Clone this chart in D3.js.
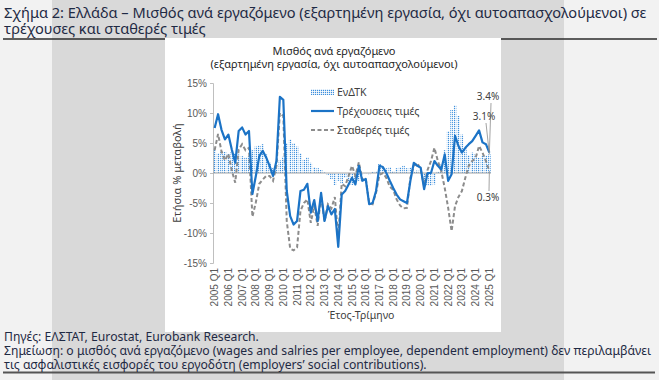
<!DOCTYPE html>
<html>
<head>
<meta charset="utf-8">
<script src="https://cdnjs.cloudflare.com/ajax/libs/d3/7.8.5/d3.min.js"></script>
<style>
  body { margin: 0; }
  svg { display: block; font-family: "Noto Sans", sans-serif; }
  .axis path, .axis line { stroke: #bfbfbf; }
  .axis text { fill: #595959; font-size: 10px; }
</style>
</head>
<body>
<svg id="chart" width="659" height="380"></svg>
<script>
// quarters 2005 Q1 .. 2025 Q1
var years = d3.range(2005, 2026);
var quarters = [];
years.forEach(function(y) {
  ["Q1", "Q2", "Q3", "Q4"].forEach(function(q) {
    if (y < 2025 || q == "Q1") quarters.push(y + " " + q);
  });
});
var tickLabels = quarters.filter(function(q) { return q.slice(-2) == "Q1"; });

// ΕνΔΤΚ (HICP), y/y %
var hicp = [
  4.1, 3.3, 3.6, 3.5,  3.2, 3.5, 3.3, 3.1,  2.8, 2.6, 2.8, 3.8,
  4.4, 4.6, 4.8, 3.1,  1.7, 0.8, 0.8, 2.1,  2.7, 5.0, 5.6, 5.0,
  4.4, 3.3, 2.2, 2.6,  1.7, 1.0, 0.8, 0.5,  0.1, -0.3, -1.0, -2.0,
  -1.3, -1.8, -0.8, -1.4,  -2.0, -1.4, -1.3, -0.2,  -0.1, -0.2, 0.2, 0.3,
  1.5, 1.0, 0.8, 1.0,  0.3, 0.8, 1.0, 1.2,  0.8, 0.9, 0.2, 0.4,
  0.8, -1.5, -2.1, -2.1,  -1.9, 0.2, 1.4, 3.8,  7.0, 10.5, 11.3, 9.5,
  6.4, 4.1, 3.0, 3.4,  3.1, 2.5, 2.9, 2.9,  3.1
];
// wages per employee, current prices
var current = [
  7.5, 9.8, 7.2, 5.6,  6.4, 3.9, 1.7, 7.0,  7.6, 6.4, 7.0, -3.5,
  -0.5, 2.8, 3.7, 2.6,  1.2, -0.5, 2.0, 12.7,  12.2, -3.0, -7.2, -8.6,
  -8.0, -3.0, -2.8, -1.8,  -6.6, -4.5, -8.0, -3.3,  -8.0, -5.5, -6.9, -6.0,
  -12.3, -3.6, -3.0, -1.9,  -0.8, -1.9, 1.2, -1.3,  -1.0, -5.2, -5.0, -3.0,
  1.2, 1.0, 0.0, -1.3,  -2.5, -3.6, -4.4, -4.7,  -5.0, -1.3, 1.7, 1.2,
  0.9, -2.7, 0.0, 0.0,  2.0, 1.2, 0.6, 3.1,  -1.3, -0.2, 6.2, 4.5,
  3.4, 4.2, 4.8, 5.3,  6.2, 7.1, 5.1, 4.8,  3.4
];
// wages per employee, constant prices
var constant = [
  3.8, 6.5, 3.6, 2.1,  3.2, 0.4, -1.6, 3.9,  4.8, 3.8, 4.2, -7.3,
  -4.9, -1.8, -1.1, -0.5,  -0.5, -1.3, 1.2, 10.0,  9.5, -8.0, -12.6, -12.9,
  -12.4, -6.3, -5.0, -4.4,  -8.3, -5.5, -8.8, -3.8,  -8.1, -5.2, -5.9, -4.0,
  -10.8, -1.8, -2.2, -0.5,  1.2, -0.5, 1.8, -1.1,  -0.9, -5.0, -5.2, -3.3,
  -0.3, 0.0, -0.8, -2.3,  -2.8, -4.4, -5.4, -5.9,  -5.8, -0.8, 1.2, 1.7,
  0.6, -2.2, 0.5, 2.0,  4.2, 2.0, 0.3, -2.5,  -5.8, -9.7, -5.5, -4.0,
  -3.0, -0.8, 1.2, 2.0,  2.5, 4.5, 3.4, 2.0,  0.3
];

var yTicks = [-15, -10, -5, 0, 5, 10, 15];
var legendNames = ["ΕνΔΤΚ", "Τρέχουσεις τιμές", "Σταθερές τιμές"];
var titleLines = [
  "Σχήμα 2: Ελλάδα – Μισθός ανά εργαζόμενο (εξαρτημένη εργασία, όχι αυτοαπασχολούμενοι) σε",
  "τρέχουσες και σταθερές τιμές"
];
var chartTitle = ["Μισθός ανά εργαζόμενο", "(εξαρτημένη εργασία, όχι αυτοαπασχολούμενοι)"];
var notes = [
  "Πηγές: ΕΛΣΤΑΤ, Eurostat, Eurobank Research.",
  "Σημείωση: ο μισθός ανά εργαζόμενο (wages and salries per employee, dependent employment) δεν περιλαμβάνει",
  "τις ασφαλιστικές εισφορές του εργοδότη (employers’ social contributions)."
];

var svg = d3.select("svg");

// page background
svg.append("rect").attr("width", 659).attr("height", 380).attr("fill", "#f2f2f2");
svg.append("rect").attr("x", 52).attr("width", 512).attr("height", 380).attr("fill", "#d9d9d9");
svg.append("line").attr("x1", 3).attr("x2", 657).attr("y1", 39).attr("y2", 39)
  .attr("stroke", "#2b2b2b").attr("stroke-width", 1.5);
svg.append("line").attr("x1", 3).attr("x2", 655).attr("y1", 372.5).attr("y2", 372.5)
  .attr("stroke", "#555").attr("stroke-width", 2);
svg.append("rect").attr("x", 165).attr("y", 38).attr("width", 336).attr("height", 294).attr("fill", "#fff");

svg.selectAll(".title").data(titleLines).enter().append("text")
  .attr("x", 4).attr("y", function(d, i) { return 18 + i * 16; })
  .attr("fill", "#1f2a44").style("font-size", "14.6px")
  .text(function(d) { return d; });

svg.selectAll(".note").data(notes).enter().append("text")
  .attr("x", 4).attr("y", function(d, i) { return 341 + i * 14; })
  .attr("fill", "#1f2a44").style("font-size", "12.2px")
  .text(function(d) { return d; });

// chart
var x = d3.scaleBand().domain(quarters).range([213, 491]).paddingInner(0.25).paddingOuter(0.1),
    y = d3.scaleLinear().domain([-15, 15]).range([263, 83]);
var cx = function(i) { return x(quarters[i]) + x.bandwidth() / 2; };

var defs = svg.append("defs");
var pat = defs.append("pattern").attr("id", "dots")
  .attr("patternUnits", "userSpaceOnUse").attr("width", 2).attr("height", 2);
pat.append("rect").attr("width", 1.2).attr("height", 1.2).attr("fill", "#3d8fdc");

svg.selectAll(".ctitle").data(chartTitle).enter().append("text")
  .attr("x", 334).attr("y", function(d, i) { return 55 + i * 13; })
  .attr("text-anchor", "middle").attr("fill", "#262626").style("font-size", "11px")
  .text(function(d) { return d; });

svg.append("g").attr("class", "axis")
  .attr("transform", "translate(213,0)")
  .call(d3.axisLeft(y).tickValues(yTicks).tickSize(3).tickFormat(function(d) { return d + "%"; }))
  .call(function(g) { g.selectAll("text").attr("x", -6); });

svg.append("text")
  .attr("transform", "translate(181," + y(0) + ") rotate(-90)")
  .attr("text-anchor", "middle").attr("fill", "#404040").style("font-size", "11px")
  .text("Ετήσια % μεταβολή");

// bars
svg.selectAll(".bar").data(hicp).enter().append("rect")
  .attr("x", function(d, i) { return x(quarters[i]); })
  .attr("width", x.bandwidth())
  .attr("y", function(d) { return y(Math.max(0, d)); })
  .attr("height", function(d) { return Math.abs(y(d) - y(0)); })
  .attr("fill", "url(#dots)");

// zero line
svg.append("line").attr("x1", 213).attr("x2", 491).attr("y1", y(0)).attr("y2", y(0))
  .attr("stroke", "#a6a6a6").attr("stroke-width", 1);

// x labels
var xAxis = svg.append("g").attr("class", "axis")
  .attr("transform", "translate(0,266)")
  .call(d3.axisBottom(x).tickValues(tickLabels).tickSize(0));
xAxis.select(".domain").remove();
xAxis.selectAll("text")
  .attr("transform", "rotate(-90)")
  .attr("x", -2).attr("y", 0).attr("dy", "0.35em")
  .style("text-anchor", "end");

svg.append("text").attr("x", 361).attr("y", 319).attr("text-anchor", "middle")
  .attr("fill", "#404040").style("font-size", "10.5px").text("Έτος-Τρίμηνο");

var line = d3.line()
  .x(function(d, i) { return cx(i); })
  .y(function(d) { return y(d); });

svg.append("path").datum(constant).attr("d", line)
  .attr("fill", "none").attr("stroke", "#8c8c8c").attr("stroke-width", 2)
  .attr("stroke-dasharray", "4,2.5");
svg.append("path").datum(current).attr("d", line)
  .attr("fill", "none").attr("stroke", "#1b73c6").attr("stroke-width", 2.2)
  .attr("stroke-linejoin", "round");

// end labels
var last = quarters.length - 1;
var endLabels = [
  {text: current[last].toFixed(1) + "%", v: current[last], tx: 488, ty: 100, lx: 491, ly: 103},
  {text: hicp[last].toFixed(1) + "%", v: hicp[last], tx: 484, ty: 120, lx: 486, ly: 123},
  {text: constant[last].toFixed(1) + "%", v: constant[last], tx: 488, ty: 201, lx: 489, ly: 191}
];
svg.selectAll(".endline").data(endLabels).enter().append("line")
  .attr("x1", function(d) { return d.lx; }).attr("y1", function(d) { return d.ly; })
  .attr("x2", cx(last)).attr("y2", function(d) { return y(d.v); })
  .attr("stroke", "#8c8c8c").attr("stroke-width", 0.8);
svg.selectAll(".endlabel").data(endLabels).enter().append("text")
  .attr("x", function(d) { return d.tx; }).attr("y", function(d) { return d.ty; })
  .attr("text-anchor", "middle").attr("fill", "#404040").style("font-size", "10px")
  .text(function(d) { return d.text; });

// legend
var legend = svg.selectAll(".legend").data(legendNames).enter().append("g")
  .attr("transform", function(d, i) { return "translate(311," + (92 + i * 19) + ")"; });
legend.append("text").attr("x", 26).attr("dy", "0.35em")
  .attr("fill", "#404040").style("font-size", "10.5px")
  .text(function(d) { return d; });
legend.filter(function(d, i) { return i == 0; }).append("rect")
  .attr("y", -3).attr("width", 23).attr("height", 6).attr("fill", "url(#dots)");
legend.filter(function(d, i) { return i == 1; }).append("line")
  .attr("x2", 23).attr("stroke", "#1b73c6").attr("stroke-width", 2.2);
legend.filter(function(d, i) { return i == 2; }).append("line")
  .attr("x2", 23).attr("stroke", "#8c8c8c").attr("stroke-width", 2).attr("stroke-dasharray", "4,2.5");
</script>
</body>
</html>
